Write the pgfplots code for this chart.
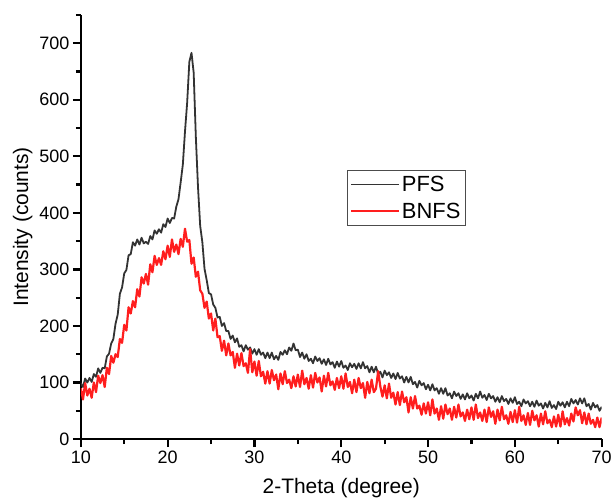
\documentclass[border=0pt]{standalone}
\usepackage{fontspec}
\setmainfont{Liberation Sans}
\usepackage{pgfplots}
\usepackage{pgfplotstable}
\pgfplotsset{compat=1.18}

\definecolor{pfscol}{HTML}{333333}
\definecolor{bnfscol}{HTML}{FF1E1E}

% 2-theta, PFS, BNFS (counts)
\pgfplotstableread{
x pfs bnfs
10.00 99 90
10.25 92 70
10.50 107 99
10.75 100 77
11.00 108 89
11.25 101 73
11.50 115 100
11.75 110 83
12.00 125 112
12.25 117 99
12.50 126 113
12.75 125 92
13.00 146 126
13.25 151 115
13.50 169 147
13.75 177 135
14.00 204 150
14.25 220 145
14.50 257 177
14.75 268 170
15.00 293 202
15.25 299 192
15.50 325 233
15.75 327 222
16.00 348 244
16.25 342 233
16.50 353 265
16.75 344 252
17.00 356 286
17.25 346 275
17.50 349 292
17.75 345 273
18.00 359 309
18.25 353 295
18.50 369 324
18.75 363 308
19.00 371 320
19.25 365 308
19.50 380 332
19.75 375 318
20.00 390 342
20.25 382 322
20.50 391 353
20.75 390 331
21.00 411 344
21.25 424 327
21.50 454 354
21.75 485 340
22.00 544 372
22.25 595 349
22.50 667 352
22.75 683 310
23.00 648 321
23.25 534 287
23.50 445 296
23.75 377 263
24.00 348 257
24.25 301 232
24.50 281 243
24.75 258 213
25.00 256 222
25.25 238 192
25.50 232 213
25.75 215 180
26.00 216 182
26.25 200 156
26.50 205 174
26.75 191 148
27.00 191 169
27.25 177 148
27.50 183 154
27.75 171 126
28.00 178 151
28.25 163 130
28.50 166 152
28.75 155 129
29.00 166 134
29.25 158 117
29.50 162 159
29.75 151 118
30.00 159 137
30.25 149 112
30.50 159 138
30.75 149 111
31.00 153 119
31.25 143 98
31.50 153 120
31.75 143 98
32.00 153 122
32.25 141 104
32.50 147 114
32.75 140 88
33.00 154 116
33.25 149 97
33.50 157 120
33.75 150 99
34.00 162 105
34.25 156 90
34.50 169 111
34.75 157 93
35.00 158 114
35.25 145 92
35.50 153 121
35.75 142 97
36.00 150 108
36.25 138 89
36.50 142 113
36.75 134 91
37.00 146 117
37.25 138 100
37.50 143 109
37.75 133 84
38.00 141 112
38.25 131 93
38.50 142 117
38.75 132 95
39.00 136 102
39.25 126 87
39.50 137 108
39.75 128 90
40.00 138 111
40.25 126 89
40.50 130 116
40.75 122 92
41.00 134 101
41.25 127 81
41.50 133 105
41.75 124 83
42.00 134 108
42.25 125 90
42.50 136 99
42.75 125 73
43.00 129 101
43.25 118 81
43.50 128 105
43.75 118 83
44.00 128 89
44.25 115 120
44.50 119 93
44.75 109 75
45.00 121 95
45.25 113 72
45.50 118 98
45.75 108 73
46.00 116 82
46.25 106 61
46.50 117 83
46.75 107 60
47.00 111 84
47.25 100 65
47.50 110 74
47.75 100 47
48.00 110 74
48.25 97 54
48.50 101 76
48.75 91 54
49.00 103 59
49.25 95 43
49.50 99 63
49.75 88 45
50.00 96 65
50.25 86 42
50.50 97 70
50.75 86 45
51.00 90 54
51.25 80 34
51.50 90 58
51.75 80 36
52.00 90 61
52.25 77 44
52.50 81 54
52.75 72 34
53.00 84 57
53.25 76 38
53.50 81 61
53.75 71 40
54.00 79 47
54.25 70 32
54.50 81 52
54.75 72 35
55.00 77 56
55.25 68 34
55.50 80 61
55.75 72 37
56.00 84 47
56.25 73 32
56.50 78 52
56.75 69 30
57.00 80 56
57.25 72 39
57.50 76 49
57.75 66 27
58.00 74 52
58.25 65 33
58.50 76 57
58.75 67 35
59.00 71 42
59.25 62 27
59.50 72 48
59.75 64 30
60.00 74 51
60.25 62 29
60.50 66 57
60.75 58 32
61.00 70 42
61.25 63 25
61.50 67 46
61.75 58 25
62.00 66 50
62.25 57 33
62.50 68 42
62.75 59 22
63.00 63 45
63.25 54 26
63.50 64 49
63.75 56 28
64.00 67 34
64.25 55 21
64.50 60 40
64.75 53 22
65.00 66 43
65.25 59 22
65.50 65 49
65.75 56 26
66.00 66 37
66.25 58 24
66.50 71 45
66.75 63 31
67.00 69 56
67.25 61 42
67.50 72 51
67.75 63 28
68.00 72 47
68.25 58 26
68.50 62 45
68.75 52 27
69.00 64 34
69.25 56 21
69.50 60 38
69.75 50 21
70.00 57 38
}\xrd

\begin{document}
\begin{tikzpicture}
\path (0pt,0pt) rectangle (615pt,505pt);
\begin{axis}[
  at={(81pt,65pt)},
  anchor=south west,
  scale only axis,
  width=522pt,
  height=425pt,
  xmin=10, xmax=70,
  ymin=0, ymax=750,
  xtick={10,20,...,70},
  ytick={0,100,...,700},
  minor xtick={15,25,...,65},
  minor ytick={50,150,...,750},
  axis lines*=left,
  axis line style={line width=2.2pt, black, -},
  xtick align=outside,
  ytick align=outside,
  major tick length=8pt,
  minor tick length=5pt,
  xtick style={draw=black, line width=2.2pt},
  ytick style={draw=black, line width=2.2pt},
  tick label style={font=\fontsize{18}{20}\selectfont, /pgf/number format/assume math mode=true},
  xlabel={2-Theta (degree)},
  ylabel={Intensity (counts)},
  xlabel style={font=\fontsize{21}{24}\selectfont, yshift=-8pt},
  ylabel style={font=\fontsize{21}{24}\selectfont},
  legend cell align=left,
  legend image code/.code={\draw[#1, line width=1.6pt] (0pt,0pt) -- (48pt,0pt);},
  legend style={
    at={(rel axis cs:0.5115,0.635)}, anchor=north west,
    draw=black!70,
    font=\fontsize{22}{24}\selectfont,
    inner xsep=3pt, inner ysep=4pt,
    row sep=6pt
  }
]
\addplot[color=pfscol, line width=1.8pt, line join=round] table[x=x, y=pfs] {\xrd};
\addplot[color=bnfscol, line width=2.2pt, line join=round] table[x=x, y=bnfs] {\xrd};
\legend{PFS, BNFS}
\end{axis}
\end{tikzpicture}
\end{document}
